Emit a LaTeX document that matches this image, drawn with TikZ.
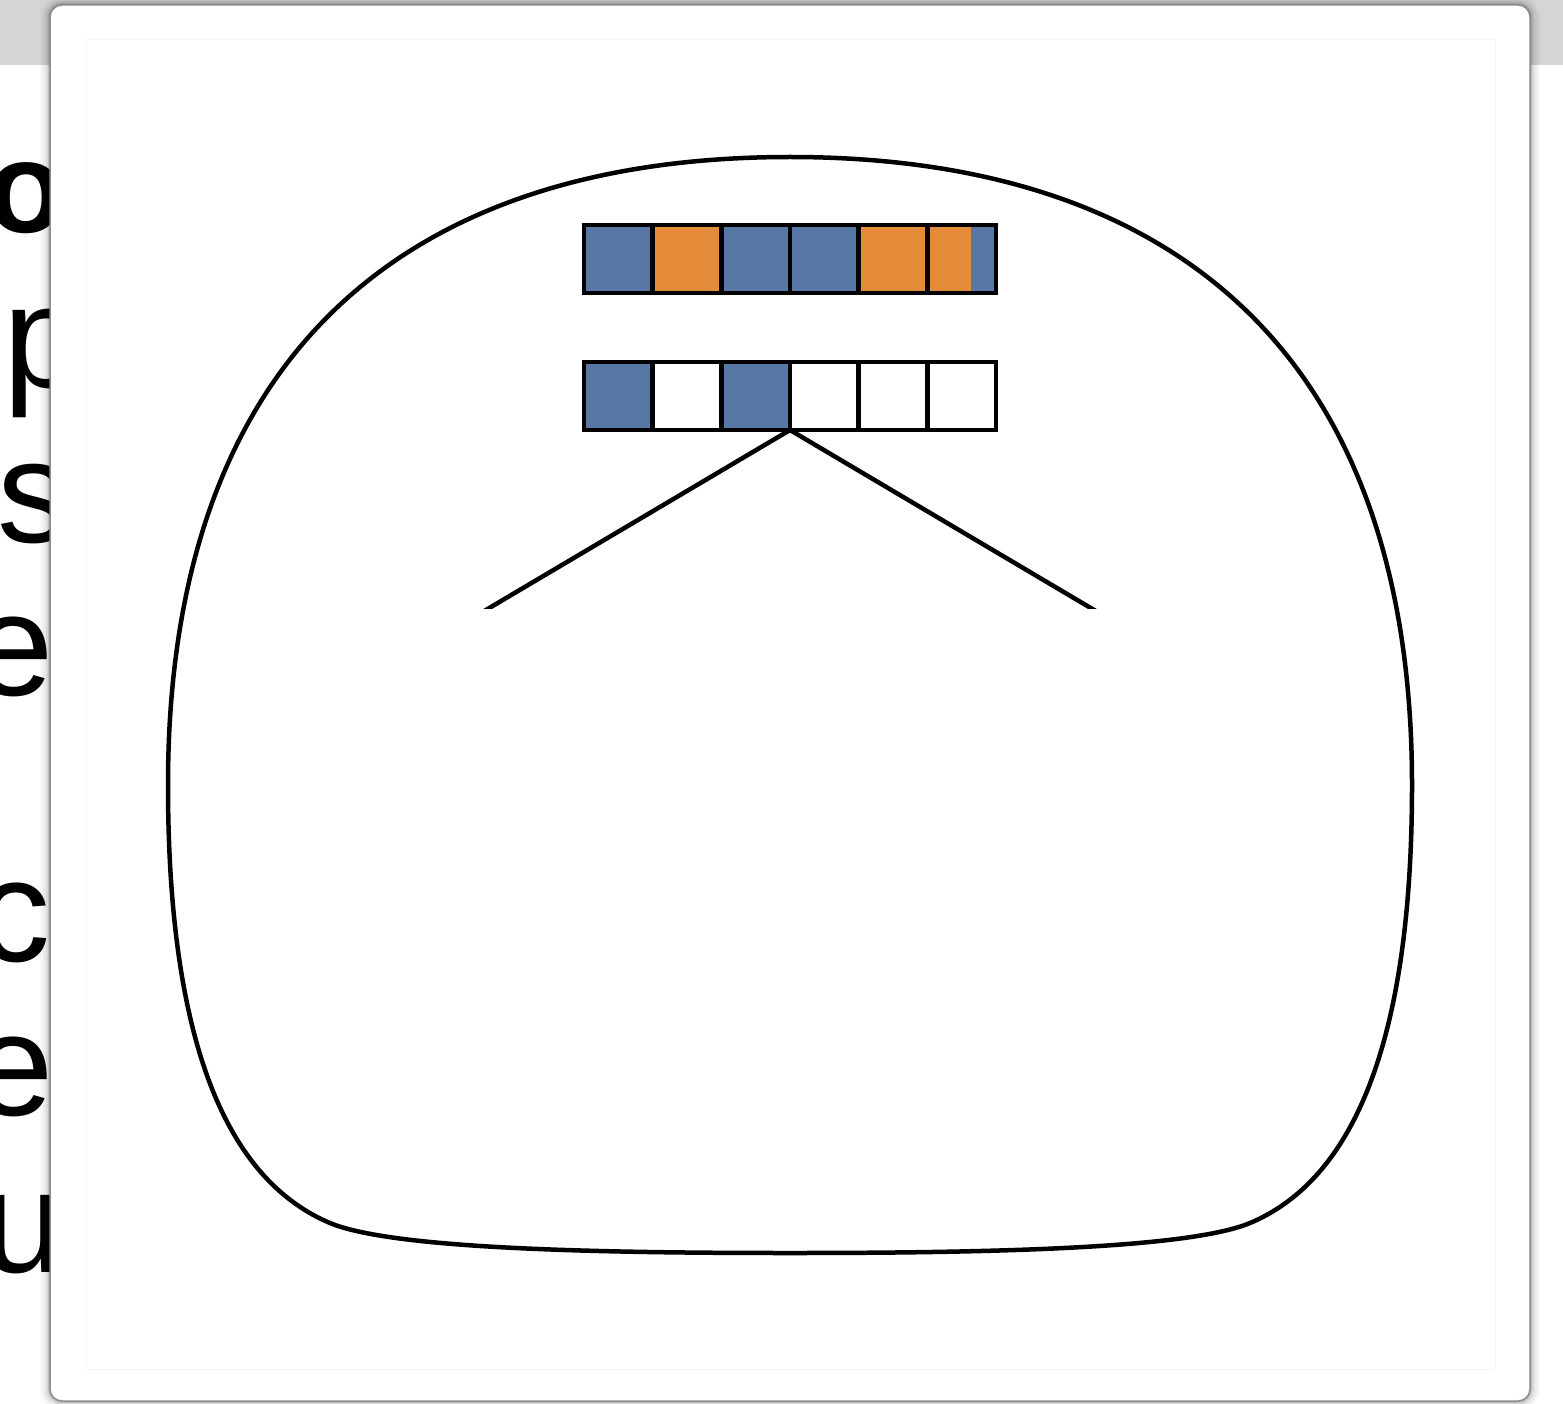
\documentclass[tikz,border=0pt]{standalone}
\usepackage{fontspec}
\newfontfamily\sidefont{Liberation Sans}
\usetikzlibrary{positioning}

\definecolor{cellblue}{RGB}{87,119,164}
\definecolor{cellorange}{RGB}{229,140,58}
\definecolor{topbar}{RGB}{212,214,213}

\tikzset{
  cell/.style={draw, line width=4.5pt, minimum width=68.67pt, minimum height=68pt,
    inner sep=0pt, outer sep=0pt},
  sidetext/.style={anchor=base west, inner sep=0pt,
    font=\sidefont\fontsize{146}{146}\selectfont},
}

\begin{document}
\begin{tikzpicture}[x=1pt, y=-1pt, line join=miter]
  \useasboundingbox (0,0) rectangle (1563,1404);

  % Фон
  \fill[topbar] (0,0) rectangle (1563,65);

  % Текст ліворуч
  \node[sidetext, font=\sidefont\bfseries\fontsize{130}{130}\selectfont] (w1) at (-14,233) {o};
  \node[sidetext] (w2) at (3,388) {p};
  \node[sidetext] (w3) at (-3,542) {s};
  \node[sidetext] (w4) at (-28,695) {e};
  \node[sidetext] (w5) at (-23,961) {c};
  \node[sidetext] (w6) at (-28,1115) {e};
  \node[sidetext] (w7) at (-18,1272) {u};

  % Панель
  \foreach \d/\op in {10/0.03,7/0.05,4/0.08,2/0.12} {
    \pgfmathsetmacro\rr{12+\d}
    \fill[black, opacity=\op, rounded corners=\rr pt]
      ({50-\d},{5-\d}) rectangle ({1530+\d},{1401+\d});
  }
  \fill[white, rounded corners=12pt] (50,5) rectangle (1530,1401);
  \draw[black!45, line width=1.5pt, rounded corners=12pt] (50,5) rectangle (1530,1401);
  \draw[black!4, line width=1pt] (86,40) rectangle (1495,1369);

  % Контур
  \draw[line width=4.5pt]
    (790,157) .. controls (1180,157) and (1412,360) .. (1412,785)
    .. controls (1412,1060) and (1345,1183) .. (1250,1223)
    .. controls (1190,1248) and (1000,1253) .. (790,1253)
    .. controls (580,1253) and (390,1248) .. (330,1223)
    .. controls (235,1183) and (168,1060) .. (168,785)
    .. controls (168,360) and (400,157) .. (790,157) -- cycle;

  % Параметри
  \def\xzero{584}
  \def\cw{68.67}

  % Верхній ряд
  \foreach \c [count=\i] in {cellblue,cellorange,cellblue,cellblue,cellorange,cellorange} {
    \node[cell, fill=\c] (t\i) at ({\xzero+\cw*(\i-0.5)},259) {};
  }
  \fill[cellblue] ([xshift=-25pt]t6.north east) rectangle (t6.south east);
  \draw[line width=4.5pt] (t6.north west) rectangle (t6.south east);

  % Нижній ряд
  \foreach \c [count=\i] in {cellblue,white,cellblue,white,white,white} {
    \node[cell, fill=\c] (b\i) at ({\xzero+\cw*(\i-0.5)},396) {};
  }

  % Лінії
  \coordinate (lft) at (469,620);
  \coordinate (rgt) at (1111,620);
  \begin{scope}
    \clip (0,0) rectangle (1563,608);
    \draw[line width=4.5pt] (lft) -- (b3.south east) -- (rgt);
  \end{scope}

\end{tikzpicture}
\end{document}
